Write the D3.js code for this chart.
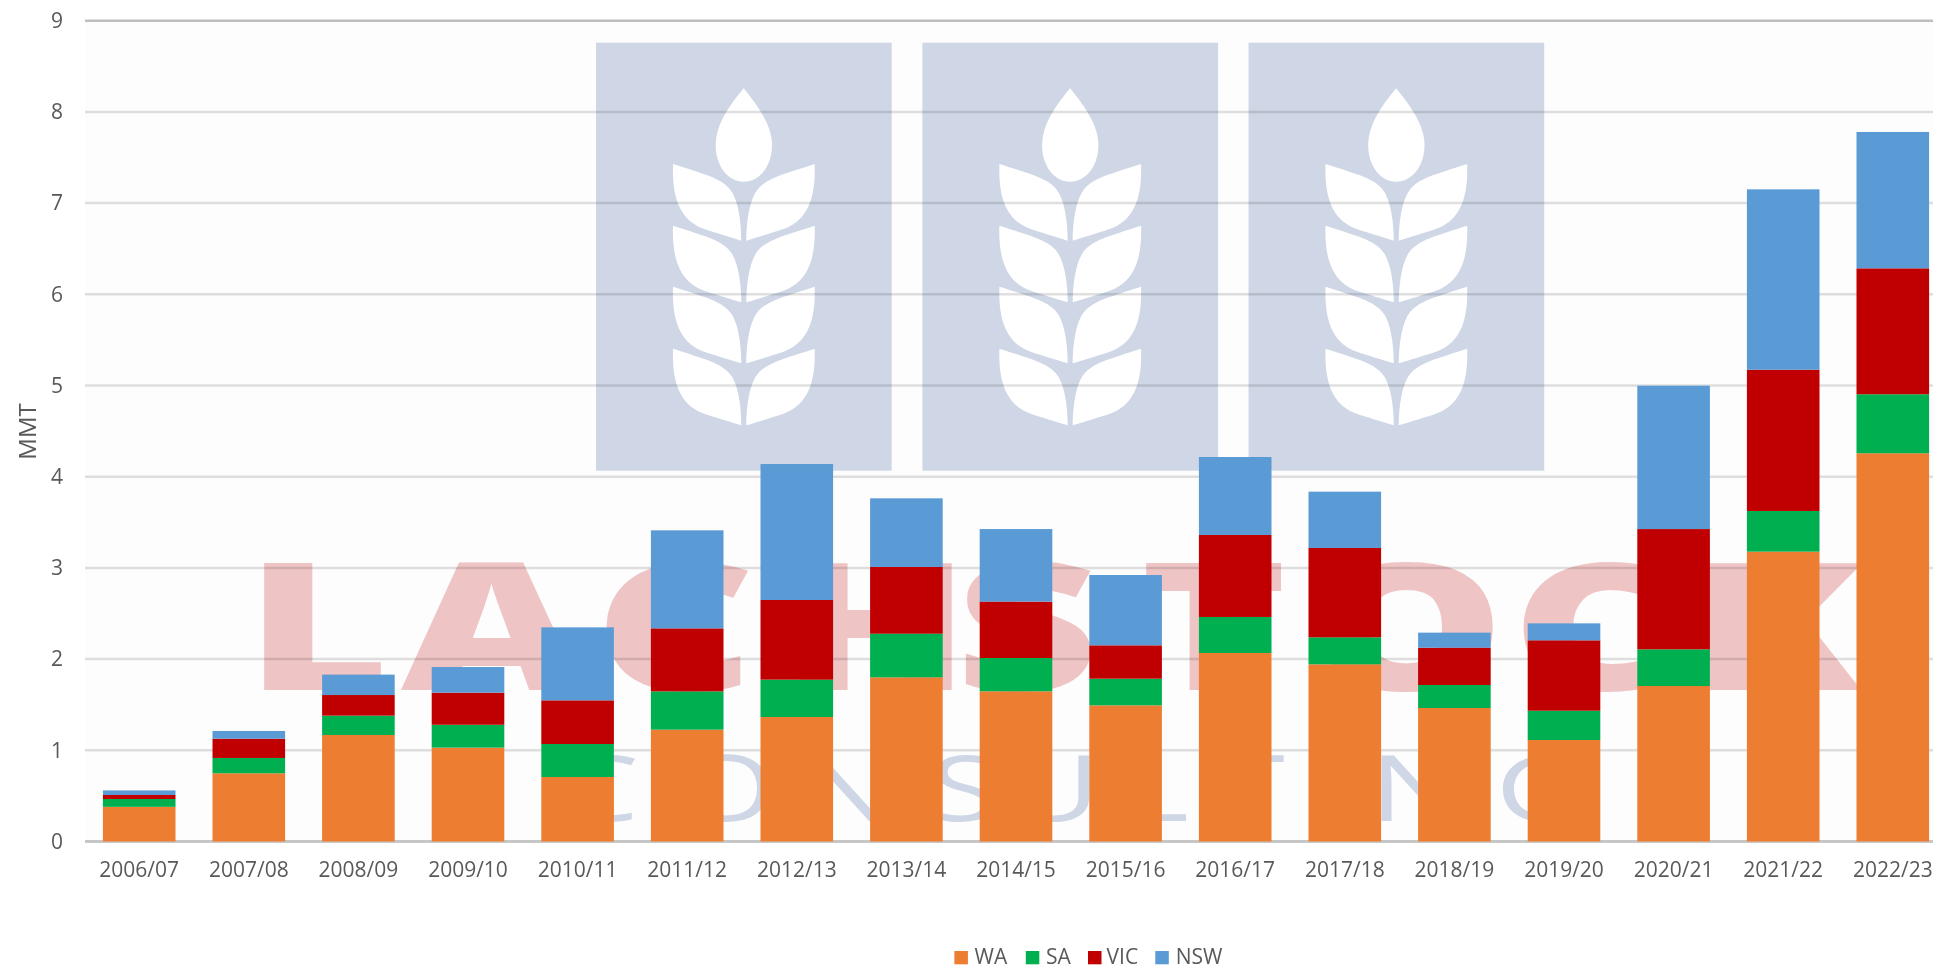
<!DOCTYPE html>
<html><head><meta charset="utf-8">
<script src="https://cdn.jsdelivr.net/npm/d3@7"></script>
<style>
html,body{margin:0;padding:0;background:#fff;overflow:hidden}
svg{display:block}
text{font-family:"Open Sans",sans-serif}
</style></head><body>
<script>
const categories=["2006/07","2007/08","2008/09","2009/10","2010/11","2011/12","2012/13","2013/14","2014/15","2015/16","2016/17","2017/18","2018/19","2019/20","2020/21","2021/22","2022/23"];
const WA=[.38,.748,1.168,1.029,.707,1.226,1.365,1.80,1.647,1.493,2.067,1.943,1.464,1.113,1.705,3.178,4.257];
const SA=[.086,.168,.212,.251,.362,.42,.41,.479,.365,.292,.395,.296,.252,.321,.402,.446,.647];
const VIC=[.044,.211,.226,.352,.479,.691,.873,.731,.618,.366,.899,.979,.409,.772,1.319,1.549,1.381];
const NSW=[.05,.085,.224,.281,.8,1.075,1.491,.753,.796,.771,.855,.618,.165,.186,1.572,1.978,1.495];
const seriesNames=["WA","SA","VIC","NSW"];
const seriesValues={WA,SA,VIC,NSW};
const colors=["#ED7D31","#00B050","#C00000","#5B9BD5"];
const yTicks=[0,1,2,3,4,5,6,7,8,9];

const W=1933,H=967;
const svg=d3.select("body").append("svg").attr("width",W).attr("height",H).attr("viewBox",[0,0,W,H]);
const x=d3.scaleBand().domain(categories).range([84.4,1947.6]).paddingInner(.3376).paddingOuter(.1688);
const y=d3.scaleLinear().domain([0,9]).range([841.5,20.7]);

svg.append("rect").attr("x",85).attr("y",20).attr("width",W-85).attr("height",822).attr("fill","#fdfdfd");

// watermark
const wm=svg.append("g");
const tileX=[596,922.4,1248.5];
const kernel="M491,175C440,235 407,290 407,345C407,410 445,455 491,455C537,455 576,410 576,345C576,290 540,235 491,175Z";
const leaf="M279,402C370,432 430,445 455,485C478,520 484,590 484,632C440,618 410,610 375,598C310,575 275,520 279,402Z";
const leafOffsets=[0,185,368,554];
tileX.forEach(tx=>{
  wm.append("rect").attr("x",tx).attr("y",42.7).attr("width",295.7).attr("height",428).attr("fill","#CFD7E6");
  const g=wm.append("g").attr("transform",`translate(${tx-16},30) scale(${1/3})`).attr("fill","#fff");
  g.append("path").attr("d",kernel);
  leafOffsets.forEach(o=>{
    g.append("path").attr("d",leaf).attr("transform",`translate(0,${o})`);
    g.append("path").attr("d",leaf).attr("transform",`translate(983,${o}) scale(-1,1)`);
  });
});
const stretch=1.4;
const bigX=[245,401,594,780,955,1140,1307,1511,1690];
const smallX=[558,676,797,929,1007,1122,1214,1327,1369,1495];
const wmText=wm.append("g").attr("transform",`scale(${stretch},1)`);
wmText.append("text").text("LACHSTOCK")
  .attr("x",bigX.map(v=>v/stretch).join(" ")).attr("y",690.5)
  .attr("font-size",178).attr("font-weight",800).attr("fill","#EFC4C5");
wmText.append("text").text("CONSULTING")
  .attr("x",smallX.map(v=>v/stretch).join(" ")).attr("y",821)
  .attr("font-size",92).attr("font-weight",400).attr("fill","#CFD7E6");

// gridlines
svg.append("g").selectAll("line").data(yTicks).join("line")
  .attr("x1",85).attr("x2",W).attr("y1",d=>y(d)).attr("y2",d=>y(d))
  .attr("stroke",d=>d===9?"#c0c0c0":d===0?"#c8c8c8":"#e0e0e0").attr("stroke-width",d=>d===0?3:2.5)
  .style("mix-blend-mode","multiply");

// bars
const rows=categories.map((c,i)=>{const r={c};seriesNames.forEach(s=>r[s]=seriesValues[s][i]);return r;});
const stack=d3.stack().keys(seriesNames)(rows);
svg.append("g").selectAll("g").data(stack).join("g").attr("fill",(d,i)=>colors[i])
  .selectAll("rect").data(d=>d).join("rect")
  .attr("x",d=>x(d.data.c)).attr("width",x.bandwidth())
  .attr("y",d=>y(d[1])).attr("height",d=>y(d[0])-y(d[1]));

// axes
const ax=svg.append("g").attr("transform","translate(0,841.5)").call(d3.axisBottom(x).tickSize(0).tickPadding(21));
ax.select(".domain").remove();
ax.selectAll("text").attr("font-size",21).attr("fill","#595959").style("font-family",'"Open Sans",sans-serif');
const ay=svg.append("g").attr("transform","translate(63,0)").call(d3.axisLeft(y).tickValues(yTicks).tickSize(0).tickPadding(0));
ay.select(".domain").remove();
ay.selectAll("text").attr("font-size",21).attr("fill","#595959").style("font-family",'"Open Sans",sans-serif');

svg.append("text").text("MMT").attr("transform","translate(35.7,431.5) rotate(-90)")
  .attr("text-anchor","middle").attr("font-size",24).attr("fill","#595959");

// legend
const legSwatch=[954.4,1025.8,1088,1155.3];
const legLabel=[974.6,1046,1106.6,1175.7];
const leg=svg.append("g");
seriesNames.forEach((s,i)=>{
  leg.append("rect").attr("x",legSwatch[i]).attr("y",951).attr("width",13.5).attr("height",13.3).attr("fill",colors[i]);
  leg.append("text").text(s).attr("x",legLabel[i]).attr("y",964).attr("font-size",21).attr("fill","#595959");
});
</script>
</body></html>
